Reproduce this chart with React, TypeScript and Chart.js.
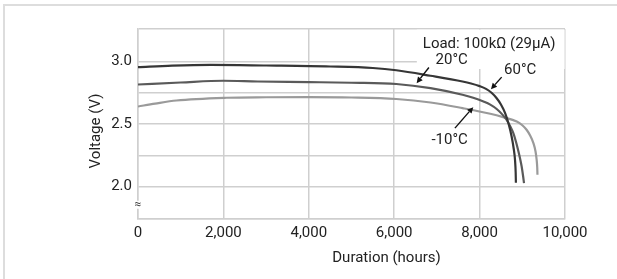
import React, { useEffect, useRef } from "react";
import { Chart, registerables } from "chart.js";

Chart.register(...registerables);

// ---- data ----
const seriesLabels = ["60°C", "20°C", "-10°C"];

const x60 = [0, 800, 1700, 3000, 4500, 5500, 6050, 6850, 7600, 7800, 8000, 8150, 8280, 8400, 8500, 8600, 8680, 8750, 8800, 8830, 8845, 8850];
const y60 = [2.955, 2.967, 2.973, 2.968, 2.96, 2.948, 2.93, 2.886, 2.84, 2.824, 2.803, 2.781, 2.75, 2.706, 2.656, 2.585, 2.5, 2.4, 2.3, 2.21, 2.11, 2.03];

const x20 = [0, 1000, 2000, 2800, 4000, 5000, 6050, 6850, 7600, 7850, 8090, 8250, 8400, 8530, 8630, 8720, 8790, 8850, 8900, 8950, 8985, 9020, 9040];
const y20 = [2.816, 2.832, 2.846, 2.84, 2.835, 2.83, 2.82, 2.787, 2.734, 2.71, 2.68, 2.655, 2.62, 2.577, 2.534, 2.48, 2.427, 2.36, 2.294, 2.22, 2.16, 2.08, 2.027];

const xm10 = [0, 400, 900, 2070, 3000, 4000, 5000, 6050, 6850, 7600, 8250, 8550, 8870, 9000, 9100, 9180, 9260, 9310, 9336, 9350, 9355];
const ym10 = [2.64, 2.663, 2.688, 2.71, 2.714, 2.715, 2.712, 2.7, 2.672, 2.627, 2.582, 2.555, 2.52, 2.49, 2.454, 2.41, 2.347, 2.28, 2.214, 2.15, 2.094];

const xTicks = [0, 2000, 4000, 6000, 8000, 10000];
const yGrid = [1.74, 2.0, 2.25, 2.5, 2.75, 3.0, 3.26];
const yLabeled = [2.0, 2.5, 3.0];
const xTitle = "Duration (hours)";
const yTitle = "Voltage (V)";

const noteTexts = ["Load: 100kΩ (29μA)", "20°C", "60°C", "-10°C"];
const noteX = [8224, 7345, 8950, 7298];
const noteY = [3.142, 3.01, 2.934, 2.37];

const arrowFromX = [6813, 8517, 7422];
const arrowFromY = [2.952, 2.875, 2.467];
const arrowToX = [6525, 8266, 7851];
const arrowToY = [2.827, 2.779, 2.635];

const maskX = [6530, 9990];
const maskY = [2.94, 3.255];

const breakMark = "≈";
const breakX = 0;
const breakY = 1.854;

// ---- styles ----
const FONT = "Roboto, 'DejaVu Sans', sans-serif";
const TEXT = "#222222";
const GRID = "#cfcfcf";
const lineColors = ["#363636", "#5a5a5a", "#9a9a9a"];

const toPts = (xs: number[], ys: number[]) => xs.map((x, i) => ({ x, y: ys[i] }));

const annotPlugin = {
  id: "annot",
  beforeDatasetsDraw(chart: any) {
    const { ctx, scales } = chart;
    const xs = scales.x, ys = scales.y;
    ctx.save();
    ctx.fillStyle = "#ffffff";
    const x0 = xs.getPixelForValue(maskX[0]);
    const x1 = xs.getPixelForValue(maskX[1]);
    const y0 = ys.getPixelForValue(maskY[1]);
    const y1 = ys.getPixelForValue(maskY[0]);
    ctx.fillRect(x0, y0, x1 - x0, y1 - y0);
    ctx.restore();
  },
  afterDatasetsDraw(chart: any) {
    const { ctx, scales, chartArea } = chart;
    const xs = scales.x, ys = scales.y;
    ctx.save();
    // arrows
    ctx.strokeStyle = "#111111";
    ctx.fillStyle = "#111111";
    ctx.lineWidth = 1.4;
    for (let i = 0; i < arrowFromX.length; i++) {
      const fx = xs.getPixelForValue(arrowFromX[i]);
      const fy = ys.getPixelForValue(arrowFromY[i]);
      const tx = xs.getPixelForValue(arrowToX[i]);
      const ty = ys.getPixelForValue(arrowToY[i]);
      const ang = Math.atan2(ty - fy, tx - fx);
      const hl = 6, hw = 3;
      const bx = tx - hl * Math.cos(ang);
      const by = ty - hl * Math.sin(ang);
      ctx.beginPath();
      ctx.moveTo(fx, fy);
      ctx.lineTo(bx, by);
      ctx.stroke();
      ctx.beginPath();
      ctx.moveTo(tx, ty);
      ctx.lineTo(bx + hw * Math.sin(ang), by - hw * Math.cos(ang));
      ctx.lineTo(bx - hw * Math.sin(ang), by + hw * Math.cos(ang));
      ctx.closePath();
      ctx.fill();
    }
    // notes
    ctx.fillStyle = TEXT;
    ctx.font = `15px ${FONT}`;
    ctx.textAlign = "center";
    ctx.textBaseline = "middle";
    for (let i = 0; i < noteTexts.length; i++) {
      ctx.fillText(noteTexts[i], xs.getPixelForValue(noteX[i]), ys.getPixelForValue(noteY[i]));
    }
    // axis titles
    ctx.fillText(xTitle, (chartArea.left + chartArea.right) / 2 + 35, chartArea.bottom + 39);
    ctx.save();
    ctx.translate(chartArea.left - 42, (chartArea.top + chartArea.bottom) / 2 + 7);
    ctx.rotate(-Math.PI / 2);
    ctx.fillText(yTitle, 0, 0);
    ctx.restore();
    // axis break mark
    const bx = xs.getPixelForValue(breakX);
    const by = ys.getPixelForValue(breakY);
    ctx.fillStyle = "#ffffff";
    ctx.fillRect(bx - 3, by - 4, 6, 8);
    ctx.fillStyle = "#444444";
    ctx.font = `12px ${FONT}`;
    ctx.fillText(breakMark, bx, by);
    ctx.restore();
  },
};

export default function App() {
  const ref = useRef<HTMLCanvasElement | null>(null);
  useEffect(() => {
    if (!ref.current) return;
    const ds = [
      { pts: toPts(x60, y60), c: lineColors[0] },
      { pts: toPts(x20, y20), c: lineColors[1] },
      { pts: toPts(xm10, ym10), c: lineColors[2] },
    ];
    const chart = new Chart(ref.current, {
      type: "line",
      data: {
        datasets: ds.map((d, i) => ({
          label: seriesLabels[i],
          data: d.pts,
          borderColor: d.c,
          backgroundColor: d.c,
          borderWidth: 2.2,
          pointRadius: 0,
          cubicInterpolationMode: "monotone" as const,
          fill: false,
        })),
      },
      options: {
        responsive: false,
        animation: false,
        events: [],
        layout: { padding: { top: 29, right: 52, bottom: 0, left: 0 } },
        plugins: { legend: { display: false }, tooltip: { enabled: false }, title: { display: false } },
        scales: {
          x: {
            type: "linear",
            min: 0,
            max: 10000,
            afterFit: (s: any) => { s.height = 60; },
            afterBuildTicks: (s: any) => { s.ticks = xTicks.map((v) => ({ value: v })); },
            grid: { color: GRID, lineWidth: 1.5, drawTicks: false },
            border: { color: GRID, width: 1.5 },
            ticks: {
              padding: 5,
              color: TEXT,
              font: { family: FONT, size: 15 },
              maxRotation: 0,
              autoSkip: false,
              callback: (v: any) => Number(v).toLocaleString("en-US"),
            },
          },
          y: {
            type: "linear",
            min: 1.74,
            max: 3.26,
            afterFit: (s: any) => { s.width = 138; },
            afterBuildTicks: (s: any) => { s.ticks = yGrid.map((v) => ({ value: v })); },
            grid: { color: GRID, lineWidth: 1.5, drawTicks: false },
            border: { color: GRID, width: 1.5 },
            ticks: {
              padding: 6,
              color: TEXT,
              font: { family: FONT, size: 15 },
              autoSkip: false,
              callback: (v: any) => (yLabeled.some((l) => Math.abs(l - Number(v)) < 1e-6) ? Number(v).toFixed(1) : ""),
            },
          },
        },
      },
      plugins: [annotPlugin],
    });
    return () => chart.destroy();
  }, []);

  return (
    <div style={{ position: "fixed", left: 0, top: 0, width: 617, height: 279, background: "#fff", overflow: "hidden" }}>
      <div
        style={{
          position: "absolute",
          left: 3,
          top: 4,
          right: 0,
          bottom: 0,
          borderTop: "2px solid #dddddd",
          borderLeft: "2px solid #dddddd",
        }}
      />
      <canvas ref={ref} width={617} height={279} style={{ position: "absolute", left: 0, top: 0 }} />
    </div>
  );
}
